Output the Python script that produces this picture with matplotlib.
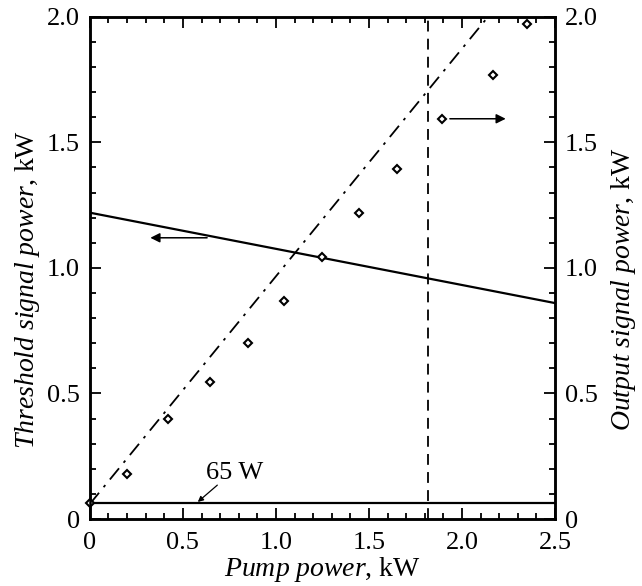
import matplotlib
matplotlib.use("Agg")
import matplotlib.pyplot as plt
from matplotlib.ticker import MultipleLocator, FixedFormatter, FixedLocator

plt.rcParams["font.family"] = ["Liberation Serif", "DejaVu Serif"]
plt.rcParams["mathtext.fontset"] = "custom"
plt.rcParams["mathtext.rm"] = "Liberation Serif"
plt.rcParams["mathtext.it"] = "Liberation Serif:italic"

# measured output signal power (diamonds)
pump = [0, 0.2, 0.42, 0.645, 0.85, 1.045, 1.245, 1.445, 1.65, 1.895, 2.165, 2.35]
output = [0.062, 0.18, 0.40, 0.547, 0.70, 0.87, 1.045, 1.22, 1.395, 1.595, 1.77, 1.97]

# linear fit of output power (dash-dot)
fit_x = [0, 2.14]
fit_y = [0.06, 2.0]

# threshold signal power (solid)
thr_x = [0, 2.5]
thr_y = [1.22, 0.86]

# 65 W level and pump limit
level_65w = 0.065
pump_limit = 1.82

xticks = [0, 0.5, 1.0, 1.5, 2.0, 2.5]
xlabels = ["0", "0.5", "1.0", "1.5", "2.0", "2.5"]
yticks = [0, 0.5, 1.0, 1.5, 2.0]
ylabels = ["0", "0.5", "1.0", "1.5", "2.0"]

FS = 19
LFS = 20

fig = plt.figure(figsize=(6.42, 5.86), dpi=100)
ax = fig.add_axes([0.140, 0.1143, 0.7245, 0.857])

ax.plot(thr_x, thr_y, color="black", lw=1.6)
ax.plot(fit_x, fit_y, color="black", lw=1.3, linestyle=(0, (8, 4, 1.5, 4)))
ax.axhline(level_65w, color="black", lw=1.6)
ax.axvline(pump_limit, color="black", lw=1.3, linestyle=(0, (6, 4)))
ax.plot(pump, output, linestyle="none", marker="D", markersize=4.5,
        markerfacecolor="white", markeredgecolor="black", markeredgewidth=1.5,
        clip_on=False, zorder=5)

arrow = dict(arrowstyle="-|>", color="black", lw=1.1, mutation_scale=14)
ax.annotate("", xy=(0.31, 1.12), xytext=(0.645, 1.12), arrowprops=arrow)
ax.annotate("", xy=(2.25, 1.594), xytext=(1.92, 1.594), arrowprops=arrow)
ax.text(0.78, 0.185, "65 W", ha="center", va="center", fontsize=FS)
ax.annotate("", xy=(0.58, 0.068), xytext=(0.685, 0.135),
            arrowprops=dict(arrowstyle="-|>", color="black", lw=0.9,
                            mutation_scale=8, shrinkA=0, shrinkB=0))

ax.set_xlim(0, 2.5)
ax.set_ylim(0, 2.0)
ax.xaxis.set_major_locator(FixedLocator(xticks))
ax.xaxis.set_major_formatter(FixedFormatter(xlabels))
ax.yaxis.set_major_locator(FixedLocator(yticks))
ax.yaxis.set_major_formatter(FixedFormatter(ylabels))
ax.xaxis.set_minor_locator(MultipleLocator(0.1))
ax.yaxis.set_minor_locator(MultipleLocator(0.1))
ax.tick_params(which="both", direction="in", top=True, right=False,
               width=1.3, labelsize=FS)
ax.tick_params(which="major", length=8)
ax.tick_params(which="minor", length=4)
ax.tick_params(axis="x", pad=9)
ax.tick_params(axis="y", pad=7)
for s in ax.spines.values():
    s.set_linewidth(1.8)

ax.set_xlabel(r"$\mathit{Pump\ power}$, kW", fontsize=LFS, labelpad=1)
ax.set_ylabel(r"$\mathit{Threshold\ signal\ power}$, kW", fontsize=LFS)
ax.yaxis.set_label_coords(-0.104, 0.458)

ax2 = ax.twinx()
ax2.set_ylim(0, 2.0)
ax2.yaxis.set_major_locator(FixedLocator(yticks))
ax2.yaxis.set_major_formatter(FixedFormatter(ylabels))
ax2.yaxis.set_minor_locator(MultipleLocator(0.1))
ax2.tick_params(which="both", direction="in", width=1.3, labelsize=FS, pad=7)
ax2.tick_params(which="major", length=8)
ax2.tick_params(which="minor", length=4)
ax2.set_ylabel(r"$\mathit{Output\ signal\ power}$, kW", fontsize=LFS)
ax2.yaxis.set_label_coords(1.116, 0.458)
for s in ax2.spines.values():
    s.set_linewidth(1.8)

fig.savefig("out.png", dpi=100)
